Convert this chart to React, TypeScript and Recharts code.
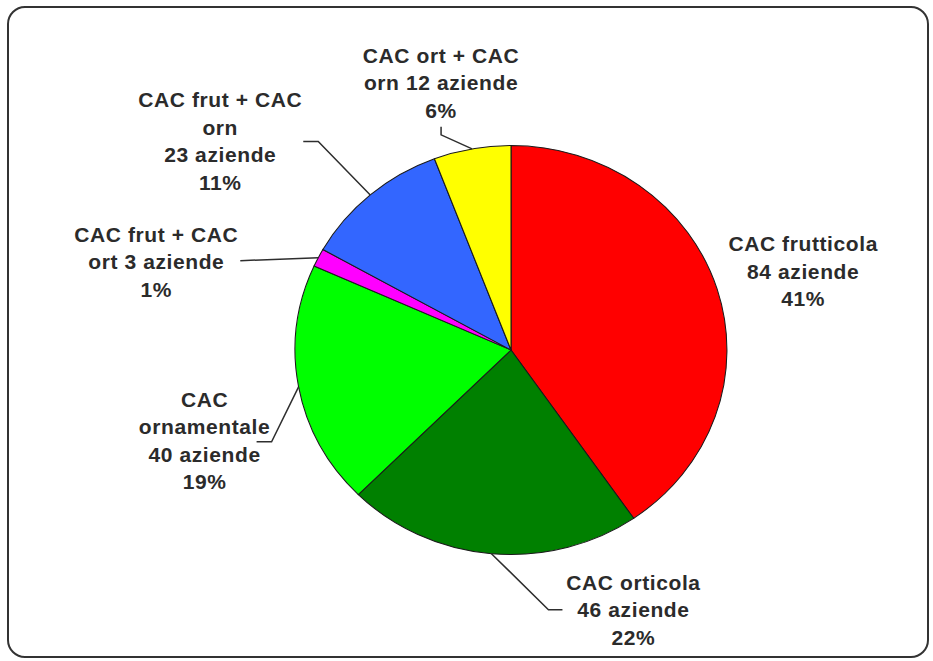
import React from 'react';
import { PieChart, Pie, Cell } from 'recharts';

// ---- data ----
const categories = [
  'CAC frutticola',
  'CAC orticola',
  'CAC ornamentale',
  'CAC frut + CAC ort',
  'CAC frut + CAC orn',
  'CAC ort + CAC orn',
];
const aziende = [84, 46, 40, 3, 23, 12];
const percentLabels = ['41%', '22%', '19%', '1%', '11%', '6%'];
const labelLines = [
  ['CAC frutticola', '84 aziende', '41%'],
  ['CAC orticola', '46 aziende', '22%'],
  ['CAC', 'ornamentale', '40 aziende', '19%'],
  ['CAC frut + CAC', 'ort 3 aziende', '1%'],
  ['CAC frut + CAC', 'orn', '23 aziende', '11%'],
  ['CAC ort + CAC', 'orn 12 aziende', '6%'],
];

// ---- styles / layout ----
const colors = ['#FF0000', '#008000', '#00FF00', '#FF00FF', '#3366FF', '#FFFF00'];
const CX = 511;
const CY = 350;
const R = 204.5;
const X_STRETCH = 1.056;
const LINE_H = 27.5;
// label text offset (center x, first baseline) and leader bends relative to arc anchor
const labelLayout = [
  { tx: 86, ty: -38, leader: [] as number[][] },
  { tx: 142, ty: 36, leader: [[57, 56], [71, 56]] },
  { tx: -94, ty: 20, leader: [[-27, 55], [-42, 55]] },
  { tx: -162, ty: -16, leader: [[-78, 3]] },
  { tx: -150, ty: -87.5, leader: [[-52, -53.5], [-67, -53.5]] },
  { tx: -31, ty: -86, leader: [[-31, -14], [-31, -22]] },
];

const data = categories.map((name, i) => ({ name, value: aziende[i], pct: percentLabels[i] }));

const RAD = Math.PI / 180;

const renderLabel = (props: any) => {
  const { cx, cy, midAngle, outerRadius, index } = props;
  const ax = cx + outerRadius * X_STRETCH * Math.cos(-midAngle * RAD);
  const ay = cy + outerRadius * Math.sin(-midAngle * RAD);
  const lay = labelLayout[index];
  const pts = [[ax, ay], ...lay.leader.map(([dx, dy]) => [ax + dx, ay + dy])];
  const tx = ax + lay.tx;
  const ty = ay + lay.ty;
  return (
    <g key={`lbl-${index}`}>
      {lay.leader.length > 0 && (
        <polyline
          points={pts.map((p) => p.join(',')).join(' ')}
          fill="none"
          stroke="#2e2e2e"
          strokeWidth={1.5}
        />
      )}
      <text
        x={tx}
        y={ty}
        textAnchor="middle"
        fill="#2b2b2b"
        fontFamily="'Liberation Sans', Arial, sans-serif"
        fontWeight="bold"
        fontSize={21}
        letterSpacing={0.6}
      >
        {labelLines[index].map((line, j) => (
          <tspan key={j} x={tx} y={ty + j * LINE_H}>
            {line}
          </tspan>
        ))}
      </text>
    </g>
  );
};

export default function App() {
  return (
    <div style={{ position: 'absolute', left: 0, top: 0, width: 933, height: 661, background: '#ffffff' }}>
      <style>{`.recharts-sector { transform: scale(${X_STRETCH}, 1); transform-origin: ${CX}px ${CY}px; }`}</style>
      <div
        style={{
          position: 'absolute',
          left: 7,
          top: 6,
          width: 922,
          height: 652,
          boxSizing: 'border-box',
          border: '2.5px solid #333333',
          borderRadius: 18,
        }}
      />
      <div style={{ position: 'absolute', left: 0, top: 0 }}>
        <PieChart width={933} height={661} margin={{ top: 0, right: 0, bottom: 0, left: 0 }}>
          <Pie
            data={data}
            dataKey="value"
            nameKey="name"
            cx={CX}
            cy={CY}
            outerRadius={R}
            startAngle={90}
            endAngle={-270}
            stroke="#1a1a1a"
            strokeWidth={1}
            labelLine={false}
            label={renderLabel}
            isAnimationActive={false}
          >
            {data.map((d, i) => (
              <Cell key={d.name} fill={colors[i]} />
            ))}
          </Pie>
        </PieChart>
      </div>
    </div>
  );
}
